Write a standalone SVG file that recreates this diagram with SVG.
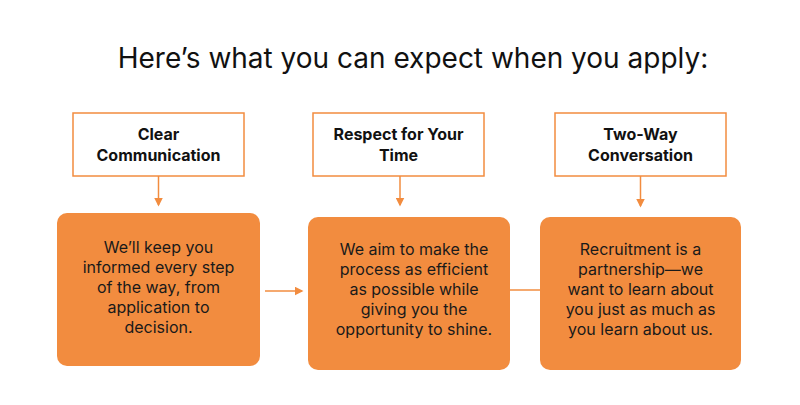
<svg xmlns="http://www.w3.org/2000/svg" width="800" height="405" viewBox="0 0 800 405">
<style>
.t{fill:#fff;stroke:#F28C3F;stroke-width:1.5}
.b{fill:#F28C3F}
.h{font-family:Inter,sans-serif;font-weight:bold;font-size:16px;fill:#111;text-anchor:middle}
.p{font-family:Inter,sans-serif;font-size:16px;fill:#1a1a1a;text-anchor:middle}
.c{stroke:#F28C3F;stroke-width:1.5;fill:none}
</style>
<defs><marker id="a" markerWidth="6" markerHeight="6" refX="5" refY="3" orient="auto"><path d="M0,0L6,3L0,6z" fill="#F28C3F"/></marker></defs>
<rect width="800" height="405" fill="#fff"/>
<text x="413" y="68" font-family="Inter,sans-serif" font-size="28" fill="#111" text-anchor="middle">Here’s what you can expect when you apply:</text>
<g id="n1"><rect class="t" x="73" y="113" width="171" height="63"/><text class="h" x="158.5" y="140">Clear</text><text class="h" x="158.5" y="161">Communication</text></g>
<g id="n2"><rect class="t" x="313" y="113" width="171" height="63"/><text class="h" x="398.5" y="140">Respect for Your</text><text class="h" x="398.5" y="161">Time</text></g>
<g id="n3"><rect class="t" x="555" y="113" width="171" height="63"/><text class="h" x="640.5" y="140">Two-Way</text><text class="h" x="640.5" y="161">Conversation</text></g>
<g id="b1"><rect class="b" x="57" y="213" width="203" height="153" rx="10"/><text class="p" x="158.5" y="253">We’ll keep you</text><text class="p" x="158.5" y="273">informed every step</text><text class="p" x="158.5" y="293">of the way, from</text><text class="p" x="158.5" y="313">application to</text><text class="p" x="158.5" y="333">decision.</text></g>
<g id="b2"><rect class="b" x="308" y="217" width="202" height="153" rx="10"/><text class="p" x="414" y="255">We aim to make the</text><text class="p" x="414" y="275">process as efficient</text><text class="p" x="414" y="295">as possible while</text><text class="p" x="414" y="315">giving you the</text><text class="p" x="414" y="335">opportunity to shine.</text></g>
<g id="b3"><rect class="b" x="540" y="217" width="201" height="153" rx="10"/><text class="p" x="640.5" y="255">Recruitment is a</text><text class="p" x="640.5" y="275">partnership—we</text><text class="p" x="640.5" y="295">want to learn about</text><text class="p" x="640.5" y="315">you just as much as</text><text class="p" x="640.5" y="335">you learn about us.</text></g>
<g id="connectors">
<path class="c" d="M158.5,176V205" marker-end="url(#a)"/>
<path class="c" d="M400,176V205" marker-end="url(#a)"/>
<path class="c" d="M640.5,176V206" marker-end="url(#a)"/>
<path class="c" d="M265,291H302" marker-end="url(#a)"/>
<path class="c" d="M510,290H540"/>
</g>
</svg>
